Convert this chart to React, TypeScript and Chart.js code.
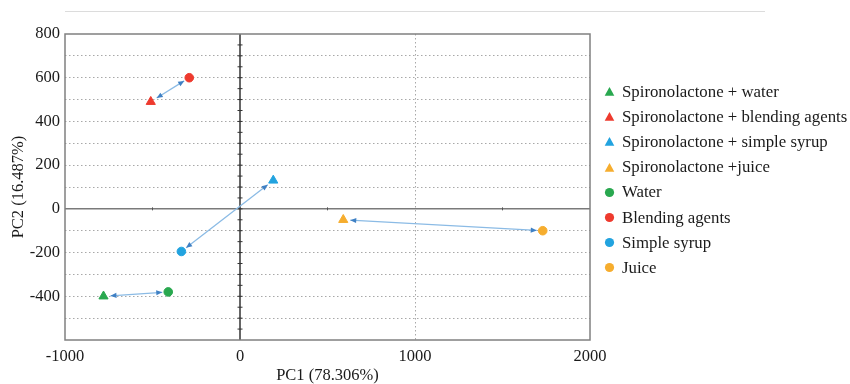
import React, { useEffect, useRef } from "react";
import { Chart, registerables } from "chart.js";

Chart.register(...registerables);

const seriesNames = [
  "Spironolactone + water",
  "Spironolactone + blending agents",
  "Spironolactone + simple syrup",
  "Spironolactone +juice",
  "Water",
  "Blending agents",
  "Simple syrup",
  "Juice",
];
const pc1Values = [-780, -510, 190, 590, -410, -290, -335, 1730];
const pc2Values = [-400, 490, 130, -50, -380, 600, -195, -100];
const markerShapes = ["triangle", "triangle", "triangle", "triangle", "circle", "circle", "circle", "circle"];
const seriesColors = ["#29a84f", "#ee3a2e", "#22a3df", "#f6ad2e", "#29a84f", "#ee3a2e", "#22a3df", "#f6ad2e"];
// arrows: [from dataset index, to dataset index]
const arrowPairs = [
  [4, 0],
  [5, 1],
  [6, 2],
  [7, 3],
];
const xTickLabels = [-1000, 0, 1000, 2000];
const yTickLabels = [-400, -200, 0, 200, 400, 600, 800];

const FONT = "'Liberation Serif', 'Times New Roman', serif";

const decorPlugin = {
  id: "decor",
  beforeDatasetsDraw(chart: any) {
    const { ctx, chartArea, scales } = chart;
    const xs = scales.x;
    const ys = scales.y;
    const x0 = xs.getPixelForValue(0);
    const y0 = ys.getPixelForValue(0);
    ctx.save();
    // horizontal zero line
    ctx.strokeStyle = "#7a7a7a";
    ctx.lineWidth = 1.5;
    ctx.beginPath();
    ctx.moveTo(chartArea.left, y0);
    ctx.lineTo(chartArea.right, y0);
    ctx.stroke();
    // small ticks on horizontal zero line
    ctx.strokeStyle = "#555";
    ctx.lineWidth = 1;
    for (const v of [-500, 500, 1500]) {
      const px = xs.getPixelForValue(v);
      ctx.beginPath();
      ctx.moveTo(px, y0 - 1.5);
      ctx.lineTo(px, y0 + 1.5);
      ctx.stroke();
    }
    // vertical zero line
    ctx.strokeStyle = "#333";
    ctx.lineWidth = 1.5;
    ctx.beginPath();
    ctx.moveTo(x0, chartArea.top);
    ctx.lineTo(x0, chartArea.bottom);
    ctx.stroke();
    ctx.lineWidth = 1;
    for (let v = -550; v < 800; v += 50) {
      const py = ys.getPixelForValue(v);
      ctx.beginPath();
      ctx.moveTo(x0 - 2.5, py);
      ctx.lineTo(x0 + 2.5, py);
      ctx.stroke();
    }
    // arrows
    for (const [a, b] of arrowPairs) {
      const p1 = chart.getDatasetMeta(a).data[0];
      const p2 = chart.getDatasetMeta(b).data[0];
      const dx = p2.x - p1.x;
      const dy = p2.y - p1.y;
      const len = Math.hypot(dx, dy);
      const ux = dx / len;
      const uy = dy / len;
      const sx = p1.x + ux * 6;
      const sy = p1.y + uy * 6;
      const ex = p2.x - ux * 7;
      const ey = p2.y - uy * 7;
      ctx.strokeStyle = "#8bbbe5";
      ctx.lineWidth = 1.3;
      ctx.beginPath();
      ctx.moveTo(sx, sy);
      ctx.lineTo(ex, ey);
      ctx.stroke();
      const head = (hx: number, hy: number, dxu: number, dyu: number) => {
        const L = 6;
        const W = 2.6;
        ctx.fillStyle = "#3f80c4";
        ctx.beginPath();
        ctx.moveTo(hx, hy);
        ctx.lineTo(hx - dxu * L - dyu * W, hy - dyu * L + dxu * W);
        ctx.lineTo(hx - dxu * L + dyu * W, hy - dyu * L - dxu * W);
        ctx.closePath();
        ctx.fill();
      };
      head(ex, ey, ux, uy);
      head(sx, sy, -ux, -uy);
    }
    ctx.restore();
  },
  afterDraw(chart: any) {
    const { ctx, chartArea } = chart;
    ctx.save();
    ctx.strokeStyle = "#808080";
    ctx.lineWidth = 1.5;
    ctx.strokeRect(chartArea.left, chartArea.top, chartArea.right - chartArea.left, chartArea.bottom - chartArea.top);
    ctx.restore();
  },
};

export default function App() {
  const ref = useRef<HTMLCanvasElement>(null);
  useEffect(() => {
    document.body.style.margin = "0";
    const datasets = seriesNames.map((name, i) => ({
      label: name,
      data: [{ x: pc1Values[i], y: pc2Values[i] }],
      pointStyle: markerShapes[i],
      pointRadius: markerShapes[i] === "triangle" ? 5.3 : 4.3,
      pointBackgroundColor: seriesColors[i],
      pointBorderColor: seriesColors[i],
      pointBorderWidth: 1,
      showLine: false,
    }));
    const chart = new Chart(ref.current as HTMLCanvasElement, {
      type: "scatter",
      data: { datasets },
      options: {
        responsive: false,
        animation: false,
        layout: { padding: { top: 34, right: 260, left: 0, bottom: 0 } },
        plugins: { legend: { display: false }, tooltip: { enabled: false } },
        scales: {
          x: {
            type: "linear",
            min: -1000,
            max: 2000,
            afterFit: (s: any) => {
              s.height = 44;
            },
            afterBuildTicks: (s: any) => {
              s.ticks = xTickLabels.map((v) => ({ value: v }));
            },
            ticks: {
              autoSkip: false,
              padding: 7,
              color: "#1a1a1a",
              font: { family: FONT, size: 16.5 },
              callback: (v: any) => String(v),
            },
            grid: {
              drawTicks: false,
              color: (c: any) => (c.tick && c.tick.value === 1000 ? "#a8a8a8" : "rgba(0,0,0,0)"),
              lineWidth: 1,
            },
            border: { display: false, dash: [1.5, 2.5] },
            title: {
              display: true,
              text: "PC1 (78.306%)",
              color: "#1a1a1a",
              font: { family: FONT, size: 16.5, lineHeight: 1 },
              padding: { top: 0, bottom: 0 },
            },
          },
          y: {
            type: "linear",
            min: -600,
            max: 800,
            afterFit: (s: any) => {
              s.width = 65;
            },
            ticks: {
              stepSize: 100,
              autoSkip: false,
              padding: 5,
              color: "#1a1a1a",
              font: { family: FONT, size: 16.5 },
              callback: (v: any) => (yTickLabels.includes(v) ? String(v) : ""),
            },
            grid: {
              drawTicks: false,
              color: (c: any) =>
                c.tick && (c.tick.value === 0 || c.tick.value === 800 || c.tick.value === -600)
                  ? "rgba(0,0,0,0)"
                  : "#a8a8a8",
              lineWidth: 1,
            },
            border: { display: false, dash: [1.5, 2.5] },
            title: {
              display: true,
              text: "PC2 (16.487%)",
              color: "#1a1a1a",
              font: { family: FONT, size: 16.5 },
              padding: { top: 9, bottom: 0 },
            },
          },
        },
      } as any,
      plugins: [decorPlugin],
    });
    return () => chart.destroy();
  }, []);

  return (
    <div style={{ position: "relative", width: 850, height: 384, background: "#fff" }}>
      <div style={{ position: "absolute", left: 65, top: 11, width: 700, height: 1, background: "#dcdcdc" }} />
      <canvas ref={ref} width={850} height={384} style={{ display: "block" }} />
      <div style={{ position: "absolute", left: 604, top: 79, fontFamily: FONT, fontSize: 16.8, color: "#1a1a1a" }}>
        {seriesNames.map((name, i) => (
          <div key={name} style={{ height: 25.2, display: "flex", alignItems: "center", whiteSpace: "nowrap" }}>
            <svg width={11} height={11} style={{ marginRight: 7, flex: "none" }}>
              {markerShapes[i] === "triangle" ? (
                <polygon points="5.5,1 10.3,9.8 0.7,9.8" fill={seriesColors[i]} />
              ) : (
                <circle cx={5.5} cy={5.5} r={4.6} fill={seriesColors[i]} />
              )}
            </svg>
            <span>{name}</span>
          </div>
        ))}
      </div>
    </div>
  );
}
